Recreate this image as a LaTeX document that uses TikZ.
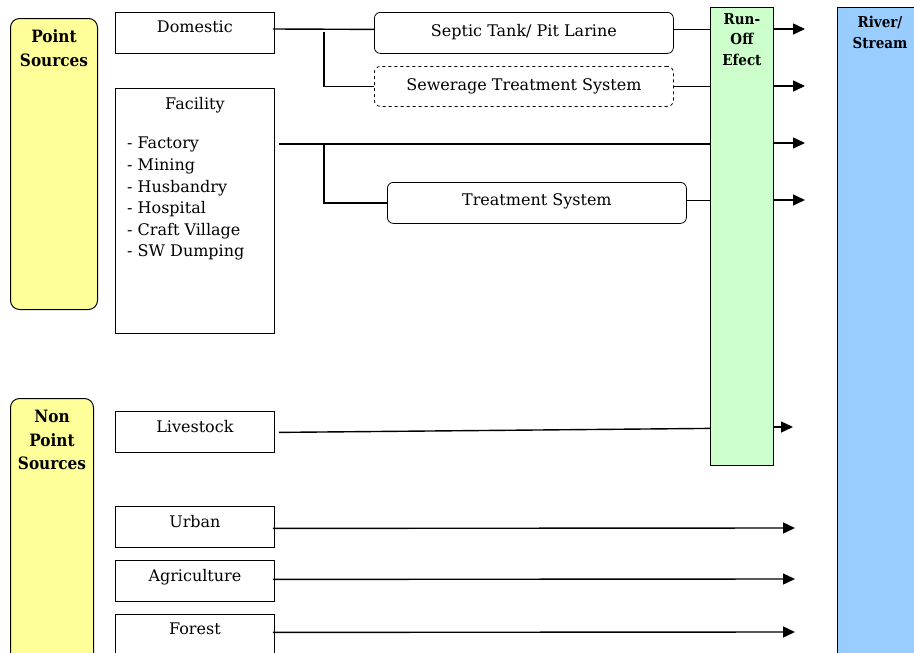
\documentclass[tikz,border=0pt]{standalone}
\usepackage{fontspec}
\setmainfont{DejaVu Serif}
\newfontfamily\headfont{DejaVu Serif Condensed}[BoldFont={DejaVu Serif Condensed Bold}]
\usetikzlibrary{arrows.meta,calc}
\definecolor{srcyellow}{HTML}{FFFF99}
\definecolor{rungreen}{HTML}{CCFFCC}
\definecolor{riverblue}{HTML}{99CCFF}
\begin{document}
\begin{tikzpicture}[x=1pt,y=-1pt,
  txt/.style={font=\fontsize{16}{18}\selectfont},
  head/.style={font=\headfont\bfseries\fontsize{17}{23.5}\selectfont, align=center, inner sep=0pt},
  smallhead/.style={font=\headfont\bfseries\fontsize{15}{20.5}\selectfont, align=center, inner sep=0pt},
  group/.style={draw, line width=1pt, rounded corners=9pt, fill=srcyellow, anchor=north west, inner sep=0pt},
  srcbox/.style={draw, line width=0.8pt, minimum width=159pt, minimum height=41pt, anchor=north west, inner sep=0pt},
  procbox/.style={draw, line width=0.8pt, rounded corners=6pt, minimum width=299pt, minimum height=41pt, anchor=north west, inner sep=0pt, txt},
  boxtitle/.style={label={[txt, anchor=north, inner sep=0pt, yshift=-9pt]north:#1}},
  link/.style={line width=1.4pt},
  flow/.style={line width=1.4pt, -{Triangle[length=12pt,width=11pt]}}]
\useasboundingbox (0,0) rectangle (914,653);
\clip (0,0) rectangle (914,653);

% source groups
\node[group, minimum width=87pt, minimum height=291pt] (point) at (10,18) {};
\node[head, anchor=north] at ($(point.north)+(0,11.5)$) {Point\\Sources};
\node[group, minimum width=83pt, minimum height=270pt] (nonpoint) at (10,398) {};
\node[head, anchor=north] at ($(nonpoint.north)+(0,12)$) {Non\\Point\\Sources};

% sources
\node[srcbox, boxtitle=Domestic] (domestic) at (115,12) {};
\node[srcbox, minimum height=245pt, boxtitle=Facility] (facility) at (115,88) {};
\node[anchor=north west, align=left, inner sep=0pt, font=\fontsize{16}{21.6}\selectfont] (facitems) at (127,137)
  {- Factory\\- Mining\\- Husbandry\\- Hospital\\- Craft Village\\- SW Dumping};
\node[srcbox, boxtitle=Livestock] (livestock) at (115,411) {};
\node[srcbox, boxtitle=Urban] (urban) at (115,506) {};
\node[srcbox, boxtitle=Agriculture] (agri) at (115,560) {};
\node[srcbox, boxtitle=Forest] (forest) at (115,614) {};

% treatment steps
\node[procbox] (septic) at (374,12) {\raisebox{5pt}{Septic Tank/ Pit Larine}};
\node[procbox, dashed, minimum height=40pt] (sewer) at (374,66) {\raisebox{4pt}{Sewerage Treatment System}};
\node[procbox] (treat) at (387,182) {\raisebox{6pt}{Treatment System}};

% run-off and receiving water
\node[draw, line width=0.8pt, fill=rungreen, anchor=north west, minimum width=63pt, minimum height=458pt, inner sep=0pt] (runoff) at (710,7) {};
\node[smallhead, anchor=north] at ($(runoff.north)+(0,6)$) {Run-\\Off\\Efect};
\node[draw, line width=0.8pt, fill=riverblue, anchor=north west, minimum width=90pt, minimum height=660pt, inner sep=0pt] (river) at (837,7) {};
\node[smallhead, anchor=north] at ($(river.north west)+(43,9)$) {River/\\Stream};

% domestic branch
\coordinate (dsplit) at (324,29);
\draw[link] ($(domestic.north east)+(-2,17)$) -- ($(septic.west)+(0,-3.5)$);
\draw[link] ($(dsplit)+(0,3)$) |- (sewer.west);
\draw[link] ($(septic.east)+(0,-3.5)$) -- (runoff.west |- {$(septic.east)+(0,-3.5)$});
\draw[link] (sewer.east) -- (runoff.west |- sewer.east);

% facility branch
\coordinate (fsplit) at (324,144);
\draw[link] (facility.east |- fsplit) ++(4,0) -- (runoff.west |- fsplit);
\draw[link] (fsplit) |- (treat.west);
\draw[link] ($(treat.east)+(0,-2.5)$) -- (runoff.west |- {$(treat.east)+(0,-2.5)$});

% livestock
\draw[link] ($(livestock.east)+(4,0.5)$) -- ($(runoff.west |- livestock.east)+(0,-3.5)$);

% run-off outlets
\coordinate (o1) at (805,29);
\coordinate (o2) at (805,86);
\coordinate (o3) at (805,143);
\coordinate (o4) at (805,200);
\coordinate (o5) at (793,427);
\foreach \o in {o1,o2,o3,o4,o5}
  \draw[flow] (runoff.east |- \o) -- (\o);

% direct non-point flows
\coordinate (u) at (795,528);
\coordinate (a) at (795,579);
\coordinate (f) at (795,632);
\draw[flow] ($(urban.east)+(-2,1.5)$) -- (u);
\draw[flow] ($(agri.east)+(-2,-1.5)$) -- (a);
\draw[flow] ($(forest.east)+(-2,-2.5)$) -- (f);
\end{tikzpicture}
\end{document}
